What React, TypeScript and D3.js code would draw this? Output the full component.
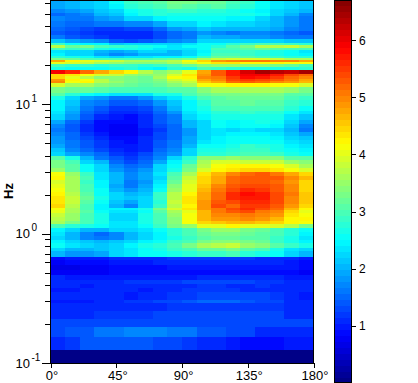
import React from "react";
import * as d3 from "d3";

const angleEdges = [0,10,20,30,40,50,60,70,80,90,100,110,120,130,140,150,160,170,180];
const xTicks = [0,45,90,135,180];
const colorTicks = [1,2,3,4,5,6];
const decades = [-1,0,1];
const minorHz = [0.2,0.3,0.4,0.5,0.6,0.7,0.8,0.9,2,3,4,5,6,7,8,9,20,30,40,50,60];
const colorMax = 6.7;
const levels = 64;

// log10(frequency) of row edges, top to bottom
const rowEdges = [1.8,1.772,1.734,1.703,1.680,1.641,1.595,1.564,1.533,1.502,1.471,1.456,1.432,1.417,1.394,1.371,1.355,1.340,1.324,1.309,1.286,1.263,1.232,1.216,1.193,1.178,1.162,1.131,1.085,1.062,1.031,0.985,0.946,0.923,0.876,0.846,0.815,0.784,0.753,0.722,0.691,0.660,0.629,0.598,0.568,0.537,0.506,0.475,0.444,0.413,0.382,0.351,0.320,0.290,0.259,0.228,0.197,0.181,0.158,0.127,0.097,0.073,0.042,0.012,-0.019,-0.050,-0.073,-0.112,-0.135,-0.181,-0.205,-0.243,-0.282,-0.320,-0.359,-0.390,-0.421,-0.452,-0.514,-0.537,-0.598,-0.660,-0.722,-0.799,-0.900,-1];

const power = [
[1.9,2.0,2.1,2.3,2.6,2.9,3.0,3.1,3.3,3.3,3.2,3.2,3.0,2.9,2.6,2.4,2.2,2.1],
[1.9,2.0,2.1,2.3,2.5,2.8,2.9,3.0,3.2,3.1,3.0,3.1,2.9,2.8,2.6,2.4,2.2,2.1],
[1.7,1.8,1.9,2.1,2.3,2.6,2.7,2.8,2.9,2.9,2.8,2.8,2.7,2.6,2.5,2.3,2.1,2.0],
[1.5,1.6,1.7,2.0,2.1,2.5,2.7,2.8,2.7,2.7,2.7,2.7,2.7,2.7,2.6,2.2,2.0,1.7],
[1.7,1.6,1.6,1.8,1.9,2.2,2.3,2.5,2.6,2.6,2.6,2.6,2.5,2.5,2.3,2.0,1.8,1.6],
[1.6,1.5,1.5,1.6,1.6,1.7,1.7,1.9,2.2,2.3,2.5,2.4,2.3,2.3,2.1,2.0,1.8,1.6],
[1.5,1.4,1.3,1.25,1.2,1.3,1.3,1.5,1.8,1.9,2.1,2.0,2.0,2.0,2.0,1.9,1.7,1.6],
[1.4,1.3,1.2,1.15,1.1,1.15,1.15,1.3,1.5,1.6,1.8,1.7,1.6,1.7,1.7,1.6,1.5,1.4],
[1.6,1.4,1.3,1.2,1.05,1.05,1.1,1.3,1.5,1.6,2.0,1.9,1.9,1.8,1.8,1.7,1.6,1.6],
[2.1,1.9,1.8,1.7,1.4,1.3,1.4,1.5,1.7,1.8,2.3,2.3,2.3,2.3,2.3,2.2,2.1,2.1],
[2.9,2.6,2.5,2.5,2.1,2.2,2.2,2.2,2.2,2.4,2.6,2.6,2.8,2.9,3.0,3.0,2.9,2.8],
[3.7,3.2,3.3,3.0,2.9,2.8,2.7,2.6,2.4,2.6,2.6,2.8,3.1,3.3,3.7,3.7,3.8,3.6],
[3.0,2.9,2.9,2.7,2.6,2.7,2.6,2.4,2.4,2.4,2.6,3.0,3.0,3.1,3.2,3.1,3.0,3.0],
[2.4,2.3,2.2,2.0,1.9,2.0,2.2,2.2,2.0,2.2,2.5,2.9,2.9,2.9,2.8,2.7,2.6,2.4],
[2.5,2.3,2.2,1.9,1.7,1.8,2.0,2.0,2.0,2.3,2.6,3.0,3.0,2.9,2.8,2.7,2.6,2.5],
[2.8,2.7,2.6,2.4,2.3,2.4,2.4,2.5,2.5,2.6,2.9,3.2,3.2,3.1,3.0,2.9,2.8,2.8],
[3.3,3.2,3.0,3.0,3.0,3.0,3.0,3.1,3.2,3.3,3.6,3.8,3.9,3.9,3.9,3.8,3.6,3.6],
[4.8,4.2,4.0,3.9,3.8,3.6,3.6,3.6,3.7,4.1,4.4,4.9,5.0,5.1,5.1,5.0,5.0,4.8],
[4.0,3.9,3.8,3.6,3.5,3.4,3.4,3.4,3.6,3.9,4.1,4.3,4.3,4.2,4.2,4.2,4.1,4.1],
[3.0,2.9,2.9,2.8,2.9,2.9,2.8,2.9,3.0,3.2,3.4,3.5,3.5,3.4,3.4,3.3,3.2,3.0],
[2.7,2.6,2.6,2.6,2.7,2.8,2.6,2.5,2.8,2.7,3.0,2.9,2.8,2.7,2.7,2.7,2.7,2.8],
[5.9,5.6,5.2,4.8,4.5,4.2,3.7,3.4,3.6,4.0,4.8,5.3,5.7,6.1,6.4,6.3,6.2,6.4],
[4.5,4.3,4.1,3.9,3.8,3.5,3.4,3.5,3.9,4.3,4.9,5.3,5.7,5.9,5.9,5.7,5.4,5.2],
[4.4,4.0,3.7,3.4,3.4,3.3,3.2,3.6,4.1,4.2,5.0,5.1,5.5,5.8,5.7,5.5,5.2,5.0],
[4.9,4.2,4.1,3.7,3.4,3.3,3.2,3.4,3.8,4.0,4.8,5.0,5.4,5.5,5.4,5.3,5.1,4.8],
[5.0,4.1,4.2,3.7,3.5,3.3,3.2,3.3,3.6,3.8,4.6,4.8,5.2,5.3,5.2,5.0,4.9,4.7],
[3.9,3.6,3.6,3.4,3.3,3.2,3.1,3.2,3.4,3.6,4.1,4.1,4.2,4.2,4.2,4.1,4.1,3.9],
[3.3,3.2,3.2,3.1,3.0,3.0,3.0,3.0,3.1,3.1,3.4,3.6,3.6,3.6,3.6,3.6,3.5,3.3],
[3.1,2.8,2.6,2.5,2.4,2.4,2.4,2.7,2.7,3.0,3.2,3.3,3.3,3.3,3.3,3.3,3.1,3.1],
[2.7,2.3,1.9,1.8,1.6,1.6,1.8,2.1,2.4,2.7,3.0,3.1,3.2,3.2,3.2,3.2,3.0,2.9],
[2.5,2.1,1.7,1.6,1.4,1.4,1.5,1.8,2.1,2.5,2.8,3.1,3.1,3.2,3.1,3.1,2.9,2.8],
[2.5,2.0,1.6,1.4,1.2,1.2,1.3,1.6,2.0,2.5,2.7,3.0,3.0,3.0,3.0,3.0,2.8,2.6],
[2.4,1.9,1.5,1.3,1.1,1.1,1.2,1.5,1.8,2.4,2.6,2.8,2.8,2.9,2.8,2.8,2.6,2.4],
[2.2,1.8,1.4,1.1,0.95,0.9,1.1,1.4,1.6,2.2,2.5,2.7,2.7,2.7,2.7,2.7,2.4,2.1],
[1.9,1.5,1.2,0.9,0.85,0.85,1.1,1.4,1.6,2.0,2.3,2.6,2.5,2.6,2.7,2.6,2.2,1.9],
[1.7,1.4,1.1,0.9,0.8,0.8,1.1,1.3,1.5,2.0,2.3,2.6,2.5,2.6,2.6,2.5,2.1,1.7],
[1.6,1.4,1.1,0.9,0.8,0.8,1.0,1.2,1.5,1.8,2.3,2.4,2.3,2.4,2.3,2.3,2.0,1.6],
[1.7,1.5,1.2,1.0,0.8,0.8,1.0,1.3,1.5,1.8,2.3,2.4,2.5,2.5,2.5,2.4,2.1,1.9],
[1.8,1.5,1.3,1.1,0.9,0.85,1.05,1.3,1.5,1.9,2.3,2.5,2.6,2.6,2.6,2.5,2.3,2.1],
[1.8,1.6,1.4,1.2,1.0,0.9,1.1,1.4,1.6,1.9,2.4,2.5,2.6,2.6,2.6,2.6,2.4,2.2],
[1.9,1.6,1.4,1.2,1.0,0.95,1.1,1.4,1.6,2.0,2.6,2.6,2.7,2.9,2.8,2.7,2.5,2.4],
[2.1,1.7,1.5,1.3,1.1,1.0,1.15,1.5,1.7,2.2,2.7,2.7,2.8,2.9,2.9,2.7,2.6,2.5],
[2.3,1.9,1.7,1.5,1.2,1.1,1.3,1.6,1.8,2.2,2.8,2.8,2.9,3.0,3.0,2.9,2.7,2.6],
[3.1,2.7,2.0,1.6,1.4,1.25,1.4,1.7,2.2,2.8,3.4,3.4,3.5,3.4,3.4,3.4,3.1,3.1],
[3.3,3.0,2.3,2.0,1.5,1.3,1.5,1.9,2.5,2.9,3.6,3.9,3.9,3.8,3.8,3.8,3.5,3.4],
[3.3,3.1,2.6,2.3,1.7,1.5,1.6,2.2,2.6,3.2,3.7,4.1,4.2,4.2,4.2,4.1,3.9,3.6],
[3.5,3.1,2.6,2.3,1.8,1.6,1.8,2.3,2.7,3.3,3.9,4.2,4.3,4.5,4.5,4.3,4.1,3.9],
[4.1,3.5,2.9,2.4,2.0,1.7,1.9,2.4,3.0,3.6,4.3,4.7,5.0,5.2,5.3,5.1,4.8,4.5],
[4.2,3.6,3.0,2.4,2.0,1.75,1.9,2.3,3.1,3.8,4.4,4.8,5.2,5.3,5.3,5.3,5.0,4.7],
[3.9,3.6,2.9,2.5,2.0,1.6,1.8,2.4,3.2,3.9,4.4,4.8,5.2,5.3,5.3,5.2,4.9,4.4],
[4.0,3.6,3.0,2.5,1.9,1.6,1.9,2.5,3.4,4.0,4.6,5.0,5.3,5.4,5.4,5.3,5.0,4.4],
[4.1,3.6,3.0,2.6,2.0,1.8,2.0,2.6,3.5,4.0,4.7,5.1,5.4,5.6,5.5,5.3,5.0,4.5],
[4.2,3.7,3.1,2.6,2.2,2.0,2.1,2.9,3.7,4.2,4.8,5.2,5.6,5.8,5.7,5.4,5.1,4.6],
[4.3,3.8,3.2,2.7,2.2,2.1,2.3,2.9,3.7,4.3,4.8,5.2,5.6,5.7,5.7,5.4,5.0,4.6],
[4.3,3.8,3.1,2.6,2.1,1.9,2.3,2.8,3.8,4.3,4.9,5.3,5.4,5.6,5.6,5.4,5.0,4.6],
[4.4,3.7,3.0,2.5,2.0,1.7,2.2,2.9,3.7,4.2,4.9,5.4,5.2,5.5,5.5,5.3,4.9,4.5],
[4.1,3.6,3.0,2.5,2.5,2.5,2.7,3.3,3.9,4.3,4.9,5.1,5.4,5.6,5.4,5.2,4.7,4.2],
[4.0,3.6,3.1,2.6,2.4,2.4,2.6,3.1,3.6,4.0,4.7,5.1,5.3,5.4,5.1,5.0,4.4,4.0],
[3.8,3.5,3.0,2.7,2.3,2.3,2.7,3.0,3.5,4.1,4.7,5.0,5.0,5.1,5.0,4.9,4.3,4.1],
[3.7,3.5,3.0,2.7,2.3,2.3,2.7,3.0,3.4,4.1,4.7,4.9,4.9,5.0,4.9,4.7,4.2,4.2],
[3.6,3.3,3.0,2.7,2.4,2.4,2.7,3.0,3.4,4.1,4.5,4.6,4.7,4.7,4.6,4.5,4.2,4.1],
[3.0,2.8,2.7,2.6,2.4,2.4,2.6,2.9,3.3,3.5,4.0,4.0,4.2,4.0,4.0,3.9,3.7,3.3],
[2.5,2.2,2.0,2.0,2.2,2.3,2.4,2.6,2.8,3.0,3.3,3.5,3.5,3.3,3.2,3.0,2.8,2.6],
[2.4,2.0,1.7,1.5,1.7,2.0,2.3,2.5,2.8,3.0,3.2,3.3,3.3,3.2,3.1,3.0,2.8,2.5],
[2.3,2.0,1.7,1.6,1.7,2.0,2.3,2.5,2.7,2.9,3.1,3.2,3.2,3.1,3.1,2.9,2.7,2.4],
[2.5,2.2,2.1,2.0,2.1,2.2,2.5,2.6,2.9,3.0,3.3,3.4,3.4,3.3,3.2,2.9,2.7,2.5],
[2.6,2.4,2.2,2.1,2.3,2.5,2.7,2.8,3.0,3.3,3.6,3.7,3.8,3.5,3.4,3.1,2.9,2.7],
[2.2,2.0,2.0,2.1,2.2,2.4,2.6,2.7,2.9,3.0,3.2,3.2,3.3,3.1,3.0,2.7,2.4,2.3],
[2.0,1.8,1.8,1.9,2.2,2.4,2.6,2.6,2.7,2.8,2.9,2.9,3.0,2.8,2.7,2.6,2.3,2.0],
[0.9,0.95,1.0,1.0,1.05,1.1,1.1,1.15,1.2,1.2,1.25,1.25,1.25,1.2,1.15,1.1,1.05,0.95],
[0.75,0.85,0.85,0.9,0.95,0.95,1.0,1.05,1.05,1.05,1.1,1.1,1.1,1.1,1.05,1.05,1.0,0.9],
[0.7,0.7,0.75,0.8,0.85,0.85,0.85,0.9,0.95,0.95,1.0,1.0,1.0,1.0,0.95,0.95,0.95,0.85],
[0.75,0.75,0.8,0.8,0.85,0.85,0.85,0.9,0.9,0.9,0.9,0.9,0.9,0.85,0.85,0.85,0.85,0.8],
[1.05,1.0,1.0,1.0,1.0,1.0,0.95,1.0,1.0,1.0,1.1,1.15,1.15,1.1,1.1,1.05,1.0,1.0],
[1.1,1.1,1.05,1.1,1.1,1.2,1.2,1.2,1.25,1.3,1.3,1.3,1.3,1.3,1.25,1.2,1.15,1.1],
[1.05,1.05,1.0,1.05,1.05,1.1,1.1,1.15,1.15,1.15,1.2,1.2,1.15,1.15,1.2,1.15,1.15,1.05],
[0.95,1.0,1.05,1.05,1.05,1.05,1.0,1.1,1.15,1.2,1.2,1.2,1.2,1.15,1.1,1.1,1.05,1.05],
[1.15,1.15,1.15,1.1,1.05,1.0,1.05,1.15,1.25,1.25,1.3,1.3,1.3,1.3,1.3,1.2,1.1,1.0],
[1.0,1.0,1.0,1.15,1.15,1.2,1.2,1.3,1.3,1.45,1.5,1.5,1.5,1.45,1.35,1.3,1.15,1.05],
[1.05,1.05,1.05,1.05,1.05,1.15,1.15,1.15,1.25,1.25,1.25,1.25,1.25,1.25,1.25,1.25,1.15,1.1],
[1.15,1.15,1.15,1.25,1.25,1.25,1.25,1.35,1.35,1.35,1.35,1.35,1.35,1.35,1.3,1.3,1.15,1.15],
[1.3,1.3,1.35,1.35,1.35,1.35,1.35,1.35,1.35,1.35,1.35,1.35,1.35,1.35,1.3,1.3,1.3,1.3],
[1.3,1.45,1.45,1.6,1.6,1.7,1.7,1.7,1.6,1.6,1.45,1.45,1.3,1.3,1.15,1.15,1.15,1.15],
[1.05,1.2,1.4,1.45,1.45,1.45,1.45,1.3,1.3,1.2,1.05,1.05,1.0,0.85,0.85,0.85,1.0,1.0],
[0.05,0.05,0.05,0.05,0.05,0.05,0.05,0.05,0.05,0.05,0.05,0.05,0.05,0.05,0.05,0.05,0.05,0.05],
];

const jet = (t: number) => {
  const c = (o: number) => Math.round(255 * Math.max(0, Math.min(1, 1.5 - Math.abs(4 * t - o))));
  return `rgb(${c(3)},${c(2)},${c(1)})`;
};
const palette = d3.range(levels).map((i) => jet((i + 0.5) / levels));
const colorScale = d3.scaleQuantize<string>().domain([0, colorMax]).range(palette);

const W = 418, H = 383;
const FONT = "'Liberation Sans', Arial, sans-serif";
const x = d3.scaleLinear().domain([0, 180]).range([50.5, 313.5]);
const y = d3.scaleLog().domain([0.1, 10 ** 1.8]).range([363, 0.5]);
const cbX0 = 334.5, cbX1 = 351.5;
const cbY = d3.scaleLinear().domain([0, colorMax]).range([383, 0]);
const cbBand = d3.scaleBand<number>().domain(d3.range(levels)).range([383, 0]);

export default function App() {
  return (
    <svg width={W} height={H} viewBox={`0 0 ${W} ${H}`} style={{ position: "absolute", left: 0, top: 0, background: "#fff" }} fontFamily={FONT}>
      <g shapeRendering="crispEdges">
        {power.map((row, r) =>
          row.map((v, c) => {
            const y0 = Math.round(y(10 ** rowEdges[r]));
            const y1 = Math.round(y(10 ** rowEdges[r + 1]));
            const x0 = Math.round(x(angleEdges[c]));
            const x1 = Math.round(x(angleEdges[c + 1]));
            return <rect key={`${r}-${c}`} x={x0} y={y0} width={x1 - x0} height={y1 - y0} fill={colorScale(v)} />;
          })
        )}
        <rect x={50.5} y={0.5} width={263} height={362.5} fill="none" stroke="#000" />
        {decades.map((d) => (
          <line key={d} x1={42} x2={50} y1={Math.round(y(10 ** d)) + 0.5} y2={Math.round(y(10 ** d)) + 0.5} stroke="#000" />
        ))}
        {minorHz.map((f) => (
          <line key={f} x1={45} x2={50} y1={Math.round(y(f)) + 0.5} y2={Math.round(y(f)) + 0.5} stroke="#000" />
        ))}
        {xTicks.map((t) => (
          <line key={t} x1={Math.round(x(t)) + 0.5} x2={Math.round(x(t)) + 0.5} y1={363} y2={368} stroke="#000" />
        ))}
        {palette.map((col, i) => (
          <rect key={i} x={cbX0} y={cbBand(i)!} width={cbX1 - cbX0} height={cbBand.bandwidth() + 0.5} fill={col} />
        ))}
        <rect x={cbX0} y={0.5} width={cbX1 - cbX0} height={382} fill="none" stroke="#000" />
        {colorTicks.map((t) => (
          <line key={t} x1={352} x2={356} y1={Math.round(cbY(t)) + 0.5} y2={Math.round(cbY(t)) + 0.5} stroke="#000" />
        ))}
      </g>
      {decades.map((d) => (
        <text key={d} x={15.5} y={y(10 ** d) + 4.5} fontSize={13} fill="#000">
          10<tspan dy={-7} dx={1.5} fontSize={10}>{d}</tspan>
        </text>
      ))}
      {xTicks.map((t) => (
        <text key={t} x={x(t) + 1.5} y={380} textAnchor="middle" fontSize={13} fill="#000">{t}°</text>
      ))}
      {colorTicks.map((t) => (
        <text key={t} x={359} y={cbY(t) + 4.5} fontSize={12} fill="#000">{t}</text>
      ))}
      <text transform="translate(13,191) rotate(-90)" textAnchor="middle" fontSize={13} fontWeight="bold" fill="#000">Hz</text>
    </svg>
  );
}
